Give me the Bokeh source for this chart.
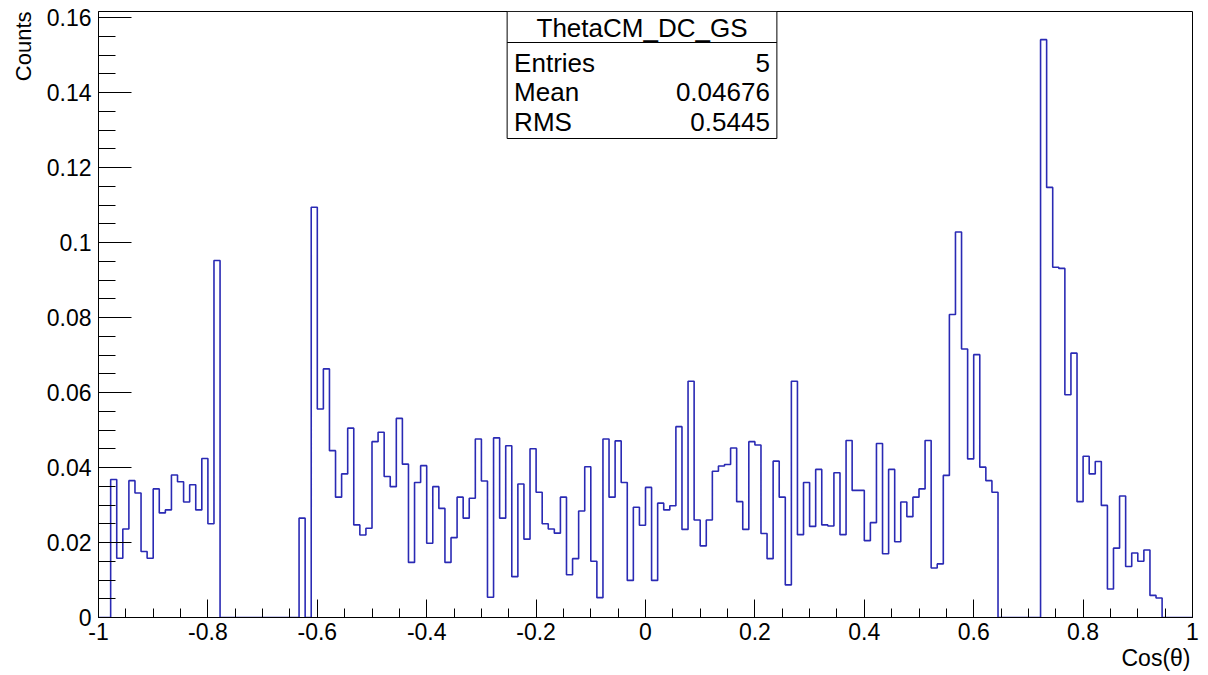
import math
import numpy as np
from bokeh.plotting import figure
from bokeh.models import Range1d, FixedTicker, CustomJSTickFormatter, Label, Title
from bokeh.embed import file_html
from bokeh.resources import INLINE

# ---------------- data ----------------
hist_title = "ThetaCM_DC_GS"
n_bins = 180
x_min, x_max = -1.0, 1.0
counts = [
    0, 0, 0.0368, 0.0158, 0.0236, 0.0365, 0.0332, 0.0176, 0.0158, 0.0343,        # 0-9
    0.0279, 0.0287, 0.0380, 0.0362, 0.0308, 0.0354, 0.0287, 0.0424, 0.0250, 0.0952,  # 10-19
    0, 0, 0, 0, 0, 0, 0, 0, 0, 0,                                                # 20-29
    0, 0, 0, 0.0265, 0, 0.1094, 0.0556, 0.0663, 0.0445, 0.0321,                  # 30-39
    0.0383, 0.0505, 0.0247, 0.0220, 0.0238, 0.0469, 0.0494, 0.0376, 0.0349, 0.0531,  # 40-49
    0.0409, 0.0147, 0.0360, 0.0405, 0.0198, 0.0349, 0.0291, 0.0147, 0.0213, 0.0321,  # 50-59
    0.0265, 0.0318, 0.0476, 0.0364, 0.0054, 0.0479, 0.0265, 0.0458, 0.0109, 0.0356,  # 60-69
    0.0209, 0.0450, 0.0334, 0.0250, 0.0236, 0.0225, 0.0321, 0.0114, 0.0157, 0.0284,  # 70-79
    0.0402, 0.0150, 0.0053, 0.0476, 0.0321, 0.0471, 0.0360, 0.0099, 0.0294, 0.0246,  # 80-89
    0.0347, 0.0099, 0.0305, 0.0287, 0.0298, 0.0509, 0.0235, 0.0630, 0.0260, 0.0191,  # 90-99
    0.0260, 0.0390, 0.0404, 0.0408, 0.0452, 0.0309, 0.0235, 0.0469, 0.0460, 0.0224,  # 100-109
    0.0157, 0.0417, 0.0321, 0.0087, 0.0630, 0.0221, 0.0360, 0.0243, 0.0395, 0.0247,  # 110-119
    0.0244, 0.0386, 0.0221, 0.0472, 0.0339, 0.0339, 0.0205, 0.0253, 0.0464, 0.0170,  # 120-129
    0.0395, 0.0202, 0.0308, 0.0269, 0.0321, 0.0343, 0.0472, 0.0132, 0.0143, 0.0379,  # 130-139
    0.0808, 0.1028, 0.0716, 0.0423, 0.0701, 0.0401, 0.0365, 0.0334, 0, 0,          # 140-149
    0, 0, 0, 0, 0, 0.1541, 0.1147, 0.0934, 0.0931, 0.0594,                         # 150-159
    0.0705, 0.0309, 0.0430, 0.0383, 0.0416, 0.0299, 0.0076, 0.0185, 0.0324, 0.0136,  # 160-169
    0.0172, 0.0150, 0.0180, 0.0059, 0.0052, 0, 0, 0, 0, 0,                         # 170-179
]

x_tick_values = [-1, -0.8, -0.6, -0.4, -0.2, 0, 0.2, 0.4, 0.6, 0.8, 1]
x_tick_labels = ["-1", "-0.8", "-0.6", "-0.4", "-0.2", "0", "0.2", "0.4", "0.6", "0.8", "1"]
y_tick_values = [0, 0.02, 0.04, 0.06, 0.08, 0.1, 0.12, 0.14, 0.16]
y_tick_labels = ["0", "0.02", "0.04", "0.06", "0.08", "0.1", "0.12", "0.14", "0.16"]
x_minor_step = 0.05
y_minor_step = 0.005

stat_names = ["Entries", "Mean", "RMS"]
stat_values = ["5", "0.04676", "0.5445"]

x_title = "Cos(\u03b8)"
y_title = "Counts"

# ---------------- layout ----------------
W, H = 1208, 675
FL, FR, FT, FB = 97, 1192, 11, 617          # frame edges in pixels
y_top = 0.1616

def dx(px):
    return x_min + (px - FL) * (x_max - x_min) / (FR - FL)

def dy(py):
    return (FB - py) * y_top / (FB - FT)

FONT = "Liberation Sans"
LINE_COL = "#2a2ab4"

p = figure(width=W, height=H, x_range=Range1d(x_min, x_max), y_range=Range1d(0, y_top),
           output_backend="svg", toolbar_location=None,
           min_border_left=FL, min_border_right=W - FR, min_border_top=FT, min_border_bottom=H - FB)
p.title.text = ""
p.xgrid.visible = False
p.ygrid.visible = False
p.outline_line_color = "black"
p.outline_line_width = 1
p.background_fill_color = "white"
p.border_fill_color = "white"

# histogram outline
edges = np.linspace(x_min, x_max, n_bins + 1)
step_x = [float(e) for e in edges]
step_y = list(counts) + [0]
p.step(step_x, step_y, mode="after", line_color=LINE_COL, line_width=1.6)

# axes
x_minor = [float(v) for v in np.round(np.arange(x_min, x_max + 1e-9, x_minor_step), 4)]
y_minor = [float(v) for v in np.round(np.arange(0, y_top, y_minor_step), 4)]
p.xaxis.ticker = FixedTicker(ticks=x_tick_values, minor_ticks=x_minor)
p.yaxis.ticker = FixedTicker(ticks=y_tick_values, minor_ticks=y_minor)

fmt_code = """
let best = 0; let bd = 1e9;
for (let i = 0; i < tv.length; i++) { const d = Math.abs(tv[i] - tick); if (d < bd) { bd = d; best = i; } }
return tl[best];
"""
p.xaxis.formatter = CustomJSTickFormatter(args=dict(tv=x_tick_values, tl=x_tick_labels), code=fmt_code)
p.yaxis.formatter = CustomJSTickFormatter(args=dict(tv=y_tick_values, tl=y_tick_labels), code=fmt_code)

for ax, maj, mnr, so in ((p.xaxis, 18, 9, 5), (p.yaxis, 33, 17, 7)):
    ax.major_tick_in = maj
    ax.major_tick_out = 0
    ax.minor_tick_in = mnr
    ax.minor_tick_out = 0
    ax.axis_line_color = "black"
    ax.major_tick_line_color = "black"
    ax.minor_tick_line_color = "black"
    ax.major_label_text_font = FONT
    ax.major_label_text_font_size = "23px"
    ax.major_label_text_color = "black"
    ax.major_label_standoff = so

# axis titles (as side titles so they sit outside the frame)
p.add_layout(Title(text=x_title, align="right", text_font=FONT, text_font_size="23px",
                   text_font_style="normal", text_color="black", standoff=0, offset=2), "below")
p.add_layout(Title(text=y_title, align="right", text_font=FONT, text_font_size="22px",
                   text_font_style="normal", text_color="black", standoff=16, offset=0), "left")

# stats box
bl, br, bt, bb = 506, 776, FT, 138
p.quad(left=[dx(bl)], right=[dx(br)], top=[dy(bt)], bottom=[dy(bb)],
       fill_color="white", line_color="black", line_width=1)
p.segment(x0=[dx(bl)], x1=[dx(br)], y0=[dy(42)], y1=[dy(42)], line_color="black", line_width=1)
SHIFT = 11
p.add_layout(Label(x=dx((bl + br) / 2), y=dy(38 - SHIFT), text=hist_title, text_align="center",
                   text_baseline="alphabetic", text_font=FONT, text_font_size="26px", text_color="black"))
for i, (nm, vl) in enumerate(zip(stat_names, stat_values)):
    base = 73 + i * 29.5 - SHIFT
    p.add_layout(Label(x=dx(513), y=dy(base), text=nm, text_align="left", text_baseline="alphabetic",
                       text_font=FONT, text_font_size="26px", text_color="black"))
    p.add_layout(Label(x=dx(769), y=dy(base), text=vl, text_align="right", text_baseline="alphabetic",
                       text_font=FONT, text_font_size="26px", text_color="black"))

open("out.html", "w").write(file_html(p, INLINE))
